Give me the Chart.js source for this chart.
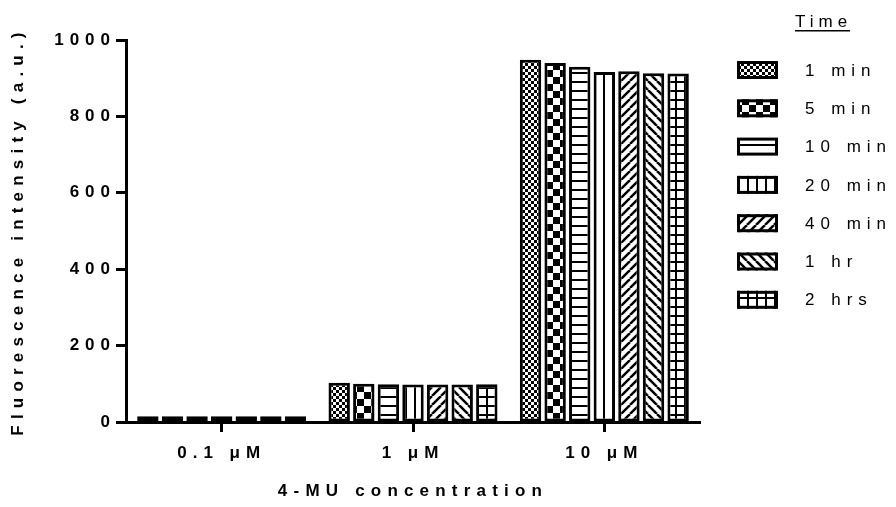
<!DOCTYPE html>
<html>
<head>
<meta charset="utf-8">
<script src="https://cdn.jsdelivr.net/npm/chart.js@4.4.0/dist/chart.umd.min.js"></script>
<style>
  html, body { margin: 0; padding: 0; background: #ffffff; }
</style>
</head>
<body>
<canvas id="myBarChart" width="896" height="507"></canvas>
<script>
// Data
const concentrations = ["0.1 μM", "1 μM", "10 μM"];
const timeLabels = ["1 min", "5 min", "10 min", "20 min", "40 min", "1 hr", "2 hrs"];
const val1min = [15, 103, 948];
const val5min = [15, 100, 940];
const val10min = [15, 99, 930];
const val20min = [15, 98, 916];
const val40min = [15, 98, 918];
const val1hr = [15, 98, 913];
const val2hrs = [15, 99, 912];
const yTicks = [0, 200, 400, 600, 800, 1000];

const seriesValues = [val1min, val5min, val10min, val20min, val40min, val1hr, val2hrs];
const patternKinds = ["fineCheck", "bigCheck", "hLines", "vLines", "diagUp", "diagDown", "grid"];

const fontFamily = "'Liberation Sans', Arial, sans-serif";
const ctxBar = document.getElementById("myBarChart");
const mainCtx = ctxBar.getContext("2d");

// black & white hatch fills like the original figure
function makePattern(kind) {
  const c = document.createElement("canvas");
  let w = 8, h = 8;
  if (kind === "fineCheck") { w = 6; h = 6; }
  if (kind === "bigCheck") { w = 14; h = 14; }
  if (kind === "hLines") { w = 4; h = 9; }
  if (kind === "vLines") { w = 9; h = 4; }
  if (kind === "diagUp" || kind === "diagDown") { w = 9; h = 9; }
  if (kind === "grid") { w = 9; h = 9; }
  c.width = w;
  c.height = h;
  const p = c.getContext("2d");
  p.fillStyle = "#ffffff";
  p.fillRect(0, 0, w, h);
  p.fillStyle = "#000000";
  p.strokeStyle = "#000000";
  switch (kind) {
    case "fineCheck":
      p.fillRect(0, 0, 3, 3);
      p.fillRect(3, 3, 3, 3);
      break;
    case "bigCheck":
      p.fillRect(0, 0, 7, 7);
      p.fillRect(7, 7, 7, 7);
      break;
    case "hLines":
      p.fillRect(0, 0, w, 2);
      break;
    case "vLines":
      p.fillRect(0, 0, 2, h);
      break;
    case "diagUp":
    case "diagDown":
      p.lineWidth = 2.5;
      for (let k = -1; k <= 1; k++) {
        p.beginPath();
        if (kind === "diagUp") {
          p.moveTo(k * w, h);
          p.lineTo(k * w + w, 0);
        } else {
          p.moveTo(k * w, 0);
          p.lineTo(k * w + w, h);
        }
        p.stroke();
      }
      break;
    case "grid":
      p.fillRect(0, 0, 2, h);
      p.fillRect(0, 0, w, 2);
      break;
  }
  return mainCtx.createPattern(c, "repeat");
}

const datasets = timeLabels.map((label, i) => ({
  label: label,
  data: seriesValues[i],
  backgroundColor: makePattern(patternKinds[i]),
  borderColor: "#000000",
  borderWidth: 3,
  borderSkipped: false,
  categoryPercentage: 0.9,
  barPercentage: 0.87,
}));

// Prism style wide letter spacing: titles are drawn in the grid layer,
// tick labels (z:1) after the datasets
const spacingPlugin = {
  id: "spacing",
  beforeDraw(chart) {
    chart.ctx.letterSpacing = "6.2px";
  },
  beforeDatasetsDraw(chart) {
    chart.ctx.letterSpacing = "6px";
  },
};

// legend on the right with underlined "Time" heading
const timeLegend = {
  id: "timeLegend",
  afterDraw(chart) {
    const ctx = chart.ctx;
    ctx.save();
    ctx.letterSpacing = "5px";
    ctx.fillStyle = "#000000";
    ctx.font = "17px " + fontFamily;
    ctx.textAlign = "left";
    ctx.textBaseline = "alphabetic";
    ctx.fillText("Time", 795, 27);
    ctx.fillRect(795, 30, 55, 1.5);

    ctx.letterSpacing = "6px";
    ctx.textBaseline = "middle";
    chart.data.datasets.forEach((ds, i) => {
      const y = 70 + i * 38.3;
      ctx.fillStyle = ds.backgroundColor;
      ctx.fillRect(737, y - 9, 41, 18);
      ctx.lineWidth = 3;
      ctx.strokeStyle = "#000000";
      ctx.strokeRect(738.5, y - 7.5, 38, 15);
      ctx.fillStyle = "#000000";
      ctx.fillText(ds.label, 805, y + 1);
    });
    ctx.restore();
  },
};

const myBarChart = new Chart(ctxBar, {
  type: "bar",
  data: {
    labels: concentrations,
    datasets: datasets,
  },
  options: {
    responsive: false,
    animation: false,
    devicePixelRatio: 1,
    layout: {
      padding: { top: 40, right: 196, bottom: 0, left: 0 },
    },
    plugins: {
      legend: { display: false },
      tooltip: { enabled: false },
    },
    scales: {
      x: {
        afterFit: function (scale) {
          scale.height = 85;
        },
        grid: {
          display: true,
          offset: false,
          drawOnChartArea: false,
          drawTicks: true,
          tickLength: 10,
          tickWidth: 3,
          color: "#000000",
        },
        border: { display: true, color: "#000000", width: 3 },
        ticks: {
          z: 1,
          color: "#000000",
          padding: 11,
          maxRotation: 0,
          autoSkip: false,
          font: { family: fontFamily, size: 17, weight: "bold" },
        },
        title: {
          display: true,
          text: "4-MU concentration",
          color: "#000000",
          padding: { top: 0, bottom: 5 },
          font: { family: fontFamily, size: 17, weight: "bold" },
        },
      },
      y: {
        min: 0,
        max: 1000,
        afterFit: function (scale) {
          scale.width = 126;
        },
        afterBuildTicks: function (scale) {
          scale.ticks = yTicks.map((v) => ({ value: v }));
        },
        grid: {
          display: true,
          drawOnChartArea: false,
          drawTicks: true,
          tickLength: 10,
          tickWidth: 3,
          color: "#000000",
        },
        border: { display: true, color: "#000000", width: 3 },
        ticks: {
          z: 1,
          color: "#000000",
          padding: 0,
          callback: function (value) {
            return String(value);
          },
          font: { family: fontFamily, size: 17, weight: "bold" },
        },
        title: {
          display: true,
          text: "Fluorescence intensity (a.u.)",
          color: "#000000",
          padding: { top: 8, bottom: 0 },
          font: { family: fontFamily, size: 17, weight: "bold" },
        },
      },
    },
  },
  plugins: [spacingPlugin, timeLegend],
});
</script>
</body>
</html>
